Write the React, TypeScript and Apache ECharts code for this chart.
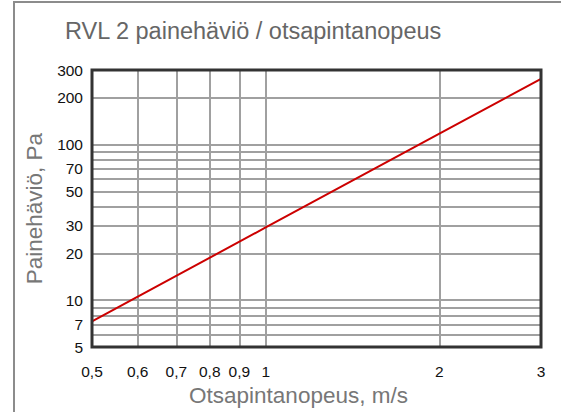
import React, { useEffect, useRef } from "react";
import * as echarts from "echarts";

const speeds = [0.5, 1, 2, 3];
const pressureDrops = [7.3, 29.3, 117, 263];
const xTickValues = [0.5, 0.6, 0.7, 0.8, 0.9, 1, 2, 3];
const xTickLabels = ["0,5", "0,6", "0,7", "0,8", "0,9", "1", "2", "3"];
const yGridValues = [5, 6, 7, 8, 9, 10, 20, 30, 40, 50, 60, 70, 80, 90, 100, 200, 300];
const yLabelValues = [5, 7, 10, 20, 30, 50, 70, 100, 200, 300];
const yTickLabels = ["5", "7", "10", "20", "30", "50", "70", "100", "200", "300"];

const FONT = "Liberation Sans, Arial, sans-serif";
const lg = (v: number) => Math.log10(v);

function labelFor(values: number[], labels: string[], v: number) {
  const i = values.findIndex((t) => Math.abs(lg(t) - v) < 1e-6);
  return i >= 0 ? labels[i] : "";
}

export default function App() {
  const ref = useRef<HTMLDivElement>(null);
  useEffect(() => {
    if (!ref.current) return;
    const chart = echarts.init(ref.current, undefined, { renderer: "svg" });
    chart.setOption({
      animation: false,
      backgroundColor: "#ffffff",
      title: {
        text: "RVL 2 painehäviö / otsapintanopeus",
        left: 65,
        top: 19,
        padding: 0,
        textStyle: { fontSize: 23.5, fontWeight: "normal", color: "#666666", fontFamily: FONT },
      },
      graphic: [
        {
          type: "rect",
          shape: { x: 14, y: 2, width: 800, height: 800 },
          style: { fill: "none", stroke: "#8c8c8c", lineWidth: 2 },
          silent: true,
          z: -1,
        },
      ],
      grid: {
        left: 92,
        right: 20,
        top: 70,
        bottom: 59,
        show: true,
        borderColor: "#333333",
        borderWidth: 3,
        backgroundColor: "transparent",
        z: 5,
      },
      xAxis: {
        type: "value",
        min: lg(0.5),
        max: lg(3),
        name: "Otsapintanopeus, m/s",
        nameLocation: "middle",
        nameGap: 24,
        nameTextStyle: {
          fontSize: 22.5,
          color: "#777777",
          fontFamily: FONT,
          padding: [0, 36, 0, 0],
        },
        axisLine: { show: false },
        axisTick: { show: false, customValues: xTickValues.map(lg) },
        axisLabel: {
          customValues: xTickValues.map(lg),
          margin: 16,
          fontSize: 15.5,
          color: "#111111",
          fontFamily: FONT,
          formatter: (v: number) => labelFor(xTickValues, xTickLabels, v),
        },
        splitLine: { show: true, lineStyle: { color: "#a0a0a0", width: 2 } },
      },
      yAxis: {
        type: "value",
        min: lg(5),
        max: lg(300),
        name: "Painehäviö, Pa",
        nameLocation: "middle",
        nameGap: 45,
        nameTextStyle: { fontSize: 22.5, color: "#777777", fontFamily: FONT },
        axisLine: { show: false },
        axisTick: { show: false, customValues: yGridValues.map(lg) },
        axisLabel: {
          customValues: yLabelValues.map(lg),
          margin: 9,
          fontSize: 15.5,
          color: "#111111",
          fontFamily: FONT,
          formatter: (v: number) => labelFor(yLabelValues, yTickLabels, v),
        },
        splitLine: { show: true, lineStyle: { color: "#a0a0a0", width: 2 } },
      },
      series: [
        {
          type: "line",
          data: speeds.map((s, i) => [lg(s), lg(pressureDrops[i])]),
          symbol: "none",
          lineStyle: { color: "#cc0000", width: 2 },
          z: 3,
        },
      ],
    });
    return () => chart.dispose();
  }, []);
  return (
    <div
      ref={ref}
      style={{ position: "fixed", left: 0, top: 0, width: 561, height: 412 }}
    />
  );
}
